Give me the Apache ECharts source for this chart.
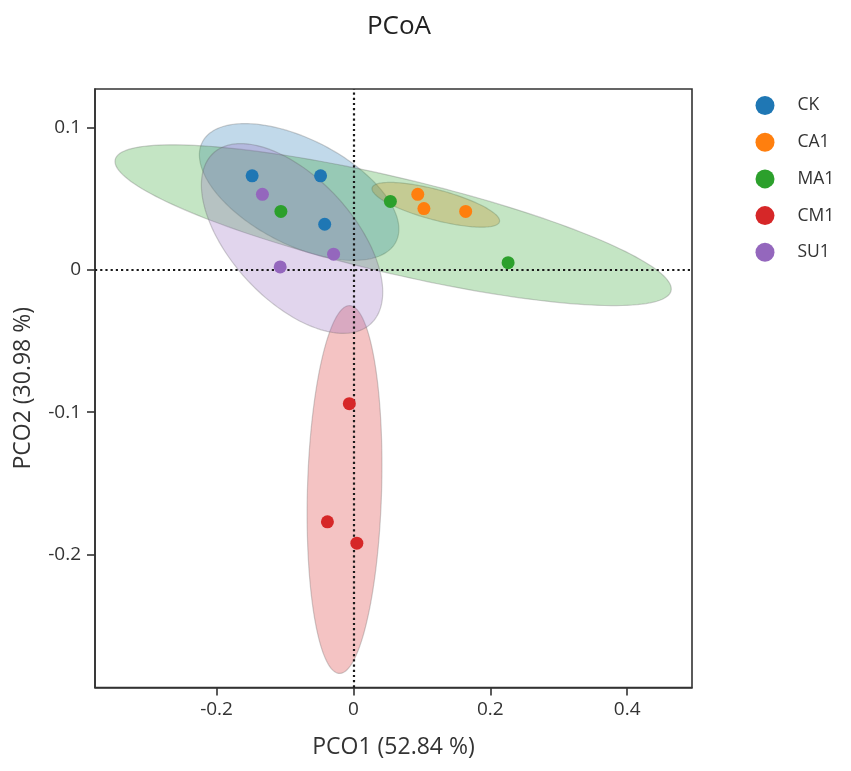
<!DOCTYPE html>
<html>
<head>
<meta charset="utf-8">
<script src="https://cdn.jsdelivr.net/npm/echarts@6/dist/echarts.min.js"></script>
<style>
html,body{margin:0;padding:0;background:#fff;}
#chart{width:851px;height:771px;}
</style>
</head>
<body>
<div id="chart"></div>
<script>
// ---- data ----
const categories = ['CK', 'CA1', 'MA1', 'CM1', 'SU1'];
const ckPoints  = [[-0.148, 0.066], [-0.048, 0.066], [-0.042, 0.032]];
const ca1Points = [[0.094, 0.053], [0.103, 0.043], [0.164, 0.041]];
const ma1Points = [[-0.106, 0.041], [0.054, 0.048], [0.226, 0.005]];
const cm1Points = [[-0.006, -0.094], [-0.038, -0.177], [0.005, -0.192]];
const su1Points = [[-0.133, 0.053], [-0.029, 0.011], [-0.107, 0.002]];
const xTicks = [-0.2, 0, 0.2, 0.4];
const yTicks = [-0.2, -0.1, 0, 0.1];
const xTitle = 'PCO1 (52.84 %)';
const yTitle = 'PCO2 (30.98 %)';
const chartTitle = 'PCoA';

const groups = [ckPoints, ca1Points, ma1Points, cm1Points, su1Points];
const colors = ['#1f77b4', '#ff7f0e', '#2ca02c', '#d62728', '#9467bd'];
const CHI2_95 = 5.991; // chi-square 95% quantile, 2 dof

// confidence ellipse (in data space) computed from a group's points
function ellipseOf(pts) {
  const n = pts.length;
  const mx = pts.reduce((s, p) => s + p[0], 0) / n;
  const my = pts.reduce((s, p) => s + p[1], 0) / n;
  let sxx = 0, syy = 0, sxy = 0;
  pts.forEach(p => {
    sxx += (p[0] - mx) * (p[0] - mx);
    syy += (p[1] - my) * (p[1] - my);
    sxy += (p[0] - mx) * (p[1] - my);
  });
  sxx /= (n - 1); syy /= (n - 1); sxy /= (n - 1);
  const tr = sxx + syy, det = sxx * syy - sxy * sxy;
  const disc = Math.sqrt(Math.max(tr * tr / 4 - det, 0));
  const l1 = tr / 2 + disc, l2 = Math.max(tr / 2 - disc, 0);
  const theta = 0.5 * Math.atan2(2 * sxy, sxx - syy);
  const a = Math.sqrt(l1 * CHI2_95), b = Math.sqrt(l2 * CHI2_95);
  const c = Math.cos(theta), s = Math.sin(theta);
  const out = [];
  for (let i = 0; i < 180; i++) {
    const t = i / 180 * Math.PI * 2;
    const u = a * Math.cos(t), v = b * Math.sin(t);
    out.push([mx + u * c - v * s, my + u * s + v * c]);
  }
  return {center: [mx, my], pts: out};
}
const ellipses = groups.map(ellipseOf);

function hexToRgba(hex, a) {
  const r = parseInt(hex.slice(1, 3), 16), g = parseInt(hex.slice(3, 5), 16), b = parseInt(hex.slice(5, 7), 16);
  return 'rgba(' + r + ',' + g + ',' + b + ',' + a + ')';
}

const FONT = '"Open Sans", "Noto Sans", sans-serif';
const chart = echarts.init(document.getElementById('chart'), null, {renderer: 'canvas'});

const series = [];
series.push({
  name: 'ellipses',
  type: 'custom',
  coordinateSystem: 'cartesian2d',
  silent: true,
  z: 1,
  clip: true,
  data: ellipses.map((e, i) => [e.center[0], e.center[1], i]),
  encode: {x: 0, y: 1},
  renderItem: function (params, api) {
    const idx = api.value(2);
    const pts = ellipses[idx].pts.map(p => api.coord(p));
    return {
      type: 'polygon',
      shape: {points: pts},
      style: {
        fill: hexToRgba(colors[idx], 0.28),
        stroke: 'rgba(90,90,90,0.28)',
        lineWidth: 1.2
      }
    };
  }
});
series.push({
  name: 'zero',
  type: 'scatter',
  data: [],
  z: 3,
  silent: true,
  markLine: {
    silent: true,
    symbol: 'none',
    label: {show: false},
    lineStyle: {color: '#1a1a1a', width: 2.2, type: [2.2, 3]},
    data: [{xAxis: 0}, {yAxis: 0}]
  }
});
categories.forEach((name, i) => {
  series.push({
    name: name,
    type: 'scatter',
    z: 5,
    symbol: 'circle',
    symbolSize: 13,
    itemStyle: {color: colors[i], opacity: 1},
    data: groups[i]
  });
});

chart.setOption({
  animation: false,
  backgroundColor: '#ffffff',
  color: colors,
  title: {
    text: chartTitle,
    left: 394,
    textAlign: 'center',
    top: 9,
    textStyle: {fontFamily: FONT, fontSize: 26, fontWeight: 'normal', color: '#222'}
  },
  legend: {
    data: categories,
    orient: 'vertical',
    left: 750.5,
    top: 91,
    icon: 'circle',
    itemWidth: 19,
    itemHeight: 19,
    itemGap: 17.7,
    textStyle: {fontFamily: FONT, fontSize: 17.5, color: '#333', lineHeight: 19, padding: [0, 0, 0, 18]}
  },
  grid: {
    left: 95, right: 159, top: 89, bottom: 83.5,
    show: true, borderColor: '#333', borderWidth: 1.6,
    containLabel: false
  },
  xAxis: {
    type: 'value',
    min: -0.3776, max: 0.4947,
    name: xTitle,
    nameLocation: 'middle',
    nameGap: 48,
    nameTextStyle: {fontFamily: FONT, fontSize: 23, color: '#333'},
    axisLine: {show: true, onZero: false, lineStyle: {color: '#333', width: 1.6}},
    axisTick: {show: true, inside: false, length: 8, lineStyle: {color: '#333', width: 1.6}, customValues: xTicks},
    axisLabel: {fontFamily: FONT, fontSize: 19, color: '#333', margin: 13, customValues: xTicks,
      formatter: v => String(Math.round(v * 100) / 100)},
    splitLine: {show: false}
  },
  yAxis: {
    type: 'value',
    min: -0.2934, max: 0.127,
    name: yTitle,
    nameLocation: 'middle',
    nameGap: 60,
    nameTextStyle: {fontFamily: FONT, fontSize: 23, color: '#333'},
    axisLine: {show: true, onZero: false, lineStyle: {color: '#333', width: 1.6}},
    axisTick: {show: true, inside: false, length: 8, lineStyle: {color: '#333', width: 1.6}, customValues: yTicks},
    axisLabel: {fontFamily: FONT, fontSize: 19, color: '#333', margin: 14, customValues: yTicks,
      formatter: v => String(Math.round(v * 100) / 100)},
    splitLine: {show: false}
  },
  series: series
});
</script>
</body>
</html>
